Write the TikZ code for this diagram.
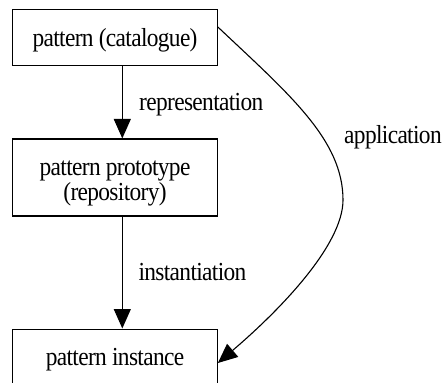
\documentclass[tikz,border=0pt]{standalone}
\usepackage{fontspec}
\setmainfont[FakeStretch=0.9,LetterSpace=-2.5]{Liberation Serif}
\usetikzlibrary{arrows.meta}
\begin{document}
\begin{tikzpicture}[x=1pt,y=-1pt,
  gvfont/.style={font=\fontsize{26pt}{25pt}\selectfont},
  box/.style={draw,line width=1.1pt,inner sep=0pt,minimum width=204.6pt,gvfont},
  edgelabel/.style={inner sep=0pt,anchor=base west,gvfont},
  link/.style={line width=1.1pt,-{Triangle[length=19.5pt,width=17pt]}}]
\useasboundingbox (0,0) rectangle (442,383);
% the three artefacts
\node[box,minimum height=55.7pt,text height=19pt,text depth=0pt] (cat) at (115,37.2) {pattern (catalogue)};
\node[box,minimum height=77pt,text height=0pt,text depth=5pt] (proto) at (115,177.5)
  {\begin{tabular}[t]{@{}c@{}}pattern prototype\\(repository)\end{tabular}};
\node[box,minimum height=55.7pt,text height=16.2pt,text depth=0pt] (inst) at (115,356.9) {pattern instance};
% relations between them
\draw[link] ([xshift=7.3pt]cat.south) -- ([xshift=7.3pt]proto.north);
\draw[link] ([xshift=7.3pt]proto.south) -- ([xshift=7.3pt]inst.north);
\coordinate (bend) at (343,200);
\draw[link] ([yshift=10.2pt]cat.east) .. controls (290,95) and (343,140) .. (bend)
  .. controls (343,245) and (280,310) .. ([yshift=-6.1pt]inst.east);
% edge labels
\node[edgelabel] (lrep) at (139,110) {representation};
\node[edgelabel] (lapp) at (344,143.3) {application};
\node[edgelabel] (linst) at (138.3,280.7) {instantiation};
\end{tikzpicture}
\end{document}
